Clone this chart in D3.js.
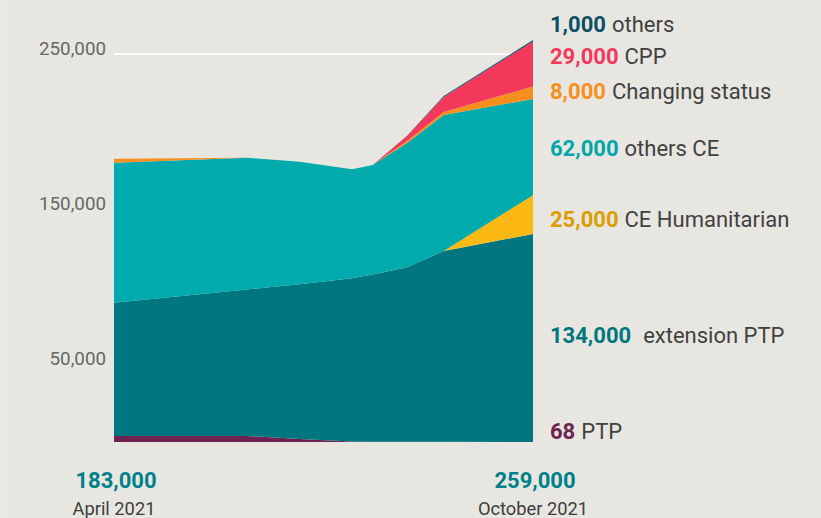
<!DOCTYPE html>
<html>
<head>
<meta charset="utf-8">
<script src="https://cdn.jsdelivr.net/npm/d3@7"></script>
<style>
  body { margin: 0; background: #e8e6e0; }
  svg { display: block; font-family: Roboto, "Open Sans", sans-serif; }
</style>
</head>
<body>
<svg id="chart"></svg>
<script>
// dates of the data points (irregular)
let dates = ["2021-04-01", "2021-05-29", "2021-06-21", "2021-07-14", "2021-07-23", "2021-08-07", "2021-08-23", "2021-10-01"];
// values in thousands, stacked bottom to top
let ptp = [3.9, 3.9, 2.0, 0.3, 0.1, 0.1, 0.1, 0.068];
let extensionPtp = [85.9, 94.4, 99.6, 105.2, 107.8, 112.5, 123.0, 134];
let ceHumanitarian = [0, 0, 0, 0, 0, 0, 0, 25];
let othersCe = [90.1, 84.9, 79.0, 70.3, 70.6, 80.1, 87.6, 62];
let changingStatus = [2.6, 0, 0, 0, 0, 1.3, 1.9, 8];
let cpp = [0, 0, 0, 0, 0, 3.2, 9.7, 29];
let others = [0, 0, 0, 0, 0, 0.2, 0.6, 1];

let seriesKeys = ["ptp", "extensionPtp", "ceHumanitarian", "othersCe", "changingStatus", "cpp", "others"];
let seriesLabels = ["68", "134,000", "25,000", "62,000", "8,000", "29,000", "1,000"];
let seriesNames = ["PTP", "extension PTP", "CE Humanitarian", "others CE", "Changing status", "CPP", "others"];
let yTicks = [50, 150, 250];
let totals = ["183,000", "259,000"];
let periodLabels = ["April 2021", "October 2021"];

let fillColors = {
  ptp: "#6e2350", extensionPtp: "#007780", ceHumanitarian: "#fdb913", othersCe: "#00aaad",
  changingStatus: "#f78f1e", cpp: "#f4385c", others: "#0c5068"
};
let labelColors = {
  ptp: "#6e2350", extensionPtp: "#00777f", ceHumanitarian: "#dc9c00", othersCe: "#00a6a9",
  changingStatus: "#f78f1e", cpp: "#f4385c", others: "#0c4f66"
};
// label baselines, one per series (in pixels)
let labelY = {
  ptp: 439, extensionPtp: 343, ceHumanitarian: 227, othersCe: 156,
  changingStatus: 99, cpp: 64, others: 32
};

var svgWidth = 821, svgHeight = 518;
var svg = d3.select("#chart").attr("width", svgWidth).attr("height", svgHeight);

svg.append("rect").attr("width", svgWidth).attr("height", svgHeight).attr("fill", "#e8e6e0");
svg.append("rect").attr("width", 7).attr("height", svgHeight).attr("fill", "#e9eae8");

var parse = d3.timeParse("%Y-%m-%d");
var table = dates.map(function(d, i) {
  return { date: parse(d), ptp: ptp[i], extensionPtp: extensionPtp[i], ceHumanitarian: ceHumanitarian[i],
    othersCe: othersCe[i], changingStatus: changingStatus[i], cpp: cpp[i], others: others[i] };
});

var x = d3.scaleTime()
  .domain(d3.extent(table, function(d) { return d.date; }))
  .range([114, 533]);
var y = d3.scaleLinear()
  .domain([0, 250])
  .range([442, 54]);

// gridline at 250,000
svg.append("line")
  .attr("x1", x.range()[0]).attr("x2", x.range()[1])
  .attr("y1", y(250)).attr("y2", y(250))
  .attr("stroke", "#ffffff").attr("stroke-width", 2);

// y labels
svg.selectAll(".ytick")
  .data(yTicks)
  .enter().append("text")
  .attr("x", 106)
  .attr("y", function(d) { return y(d) - 6; })
  .attr("dy", "0.35em")
  .attr("text-anchor", "end")
  .attr("font-size", 18.8)
  .attr("fill", "#666666")
  .text(function(d) { return d3.format(",")(d * 1000); });

var stack = d3.stack().keys(seriesKeys);
var layers = stack(table);

var area = d3.area()
  .x(function(d) { return x(d.data.date); })
  .y0(function(d) { return y(d[0]); })
  .y1(function(d) { return y(d[1]); });

svg.selectAll(".layer")
  .data(layers)
  .enter().append("path")
  .attr("fill", function(d) { return fillColors[d.key]; })
  .attr("d", area);

// labels on the right
var labels = svg.selectAll(".label")
  .data(seriesKeys)
  .enter().append("text")
  .attr("x", 550)
  .attr("y", function(k) { return labelY[k]; })
  .attr("font-size", 22);
labels.append("tspan")
  .attr("font-weight", "bold")
  .attr("fill", function(k) { return labelColors[k]; })
  .text(function(k, i) { return seriesLabels[i]; });
labels.append("tspan")
  .attr("dx", function(k) { return k == "extensionPtp" ? 12 : 6; })
  .attr("fill", "#414141")
  .text(function(k, i) { return seriesNames[i]; });

// totals and periods under the chart
var ends = x.domain();
svg.selectAll(".total")
  .data(ends)
  .enter().append("text")
  .attr("x", function(d) { return x(d) + 2; })
  .attr("y", 488)
  .attr("text-anchor", "middle")
  .attr("font-size", 22)
  .attr("font-weight", "bold")
  .attr("fill", "#00808a")
  .text(function(d, i) { return totals[i]; });
svg.selectAll(".period")
  .data(ends)
  .enter().append("text")
  .attr("x", function(d) { return x(d); })
  .attr("y", 515)
  .attr("text-anchor", "middle")
  .attr("font-size", 18.3)
  .attr("fill", "#3d3d3d")
  .text(function(d, i) { return periodLabels[i]; });
</script>
</body>
</html>
